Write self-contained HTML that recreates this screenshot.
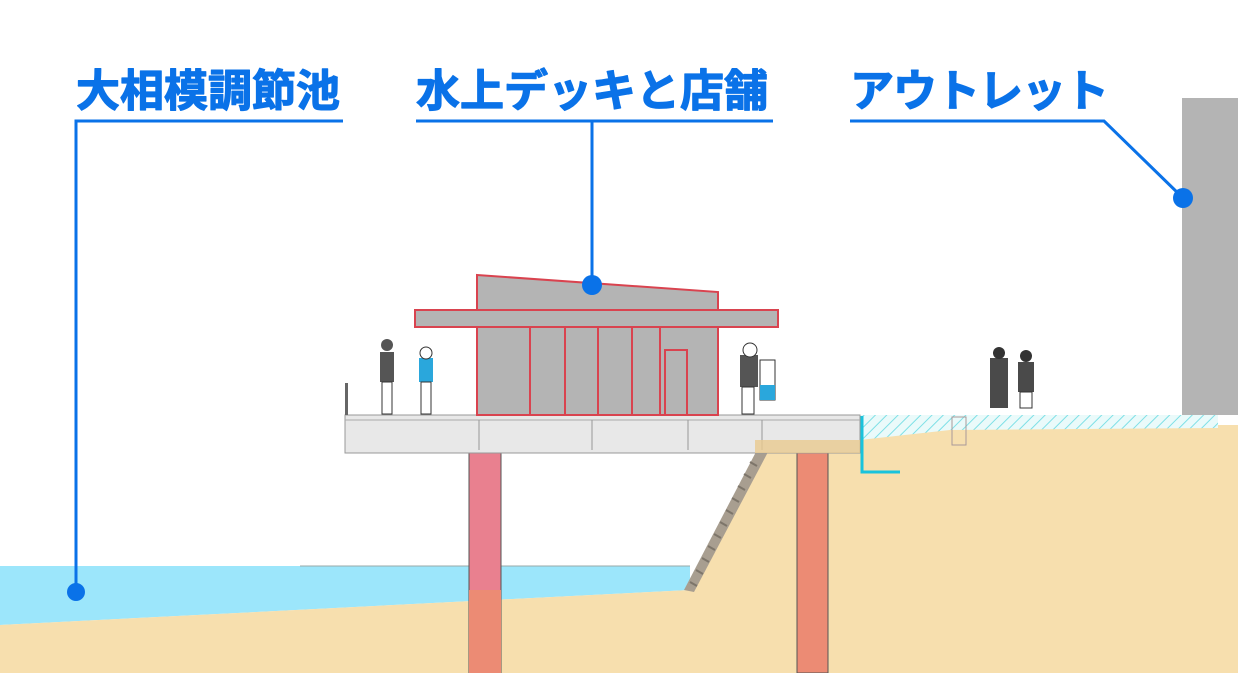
<!DOCTYPE html>
<html><head><meta charset="utf-8"><style>
html,body{margin:0;padding:0;background:#fff;width:1238px;height:673px;overflow:hidden}
text{font-family:"Liberation Sans","Noto Sans CJK JP",sans-serif;font-weight:bold;fill:#0a72e8;stroke:#0a72e8;stroke-width:1.2;stroke-linejoin:round}
</style></head><body>
<svg width="1238" height="673" viewBox="0 0 1238 673" xmlns="http://www.w3.org/2000/svg">
<defs>
<pattern id="hat" width="8" height="8" patternUnits="userSpaceOnUse" patternTransform="rotate(45)">
<rect width="8" height="8" fill="#eafafa"/><line x1="0" y1="0" x2="0" y2="8" stroke="#7ee0e6" stroke-width="2"/></pattern>
</defs>
<rect x="1182" y="98" width="56" height="317" fill="#b4b4b4"/>
<polygon points="0,566 690,566 690,590 0,625" fill="#9ce6fb"/>
<line x1="300" y1="566" x2="690" y2="566" stroke="#9aa" stroke-width="1"/>
<polygon points="0,625 690,590 760,452 860,452 860,440 950,425 1238,425 1238,673 0,673" fill="#f7dfae"/>
<polygon points="684,590 758,448 768,452 694,592" fill="#a89e90"/>
<g stroke="#7d756a" stroke-width="2">
<line x1="690" y1="582" x2="697" y2="586"/><line x1="696" y1="570" x2="703" y2="574"/><line x1="702" y1="558" x2="709" y2="562"/><line x1="708" y1="546" x2="715" y2="550"/><line x1="714" y1="534" x2="721" y2="538"/><line x1="720" y1="522" x2="727" y2="526"/><line x1="726" y1="510" x2="733" y2="514"/><line x1="732" y1="498" x2="739" y2="502"/><line x1="738" y1="486" x2="745" y2="490"/><line x1="744" y1="474" x2="751" y2="478"/><line x1="750" y1="462" x2="757" y2="466"/>
</g>
<polygon points="860,415 1218,415 1218,428 950,430 860,440" fill="url(#hat)"/>
<path d="M862,416 V472 H900" fill="none" stroke="#19c3dc" stroke-width="3"/>
<rect x="952" y="417" width="14" height="28" fill="none" stroke="#a99" stroke-width="1"/>
<rect x="469" y="453" width="32" height="220" fill="#e9808f" stroke="#555" stroke-width="1"/>
<rect x="469" y="590" width="32" height="83" fill="#ec8b74"/>
<rect x="797" y="453" width="31" height="220" fill="#ec8b74" stroke="#555" stroke-width="1"/>
<rect x="345" y="415" width="515" height="38" fill="#e8e8e8" stroke="#999" stroke-width="1"/>
<line x1="345" y1="420" x2="860" y2="420" stroke="#aaa"/>
<g stroke="#999"><line x1="479" y1="420" x2="479" y2="450"/><line x1="592" y1="420" x2="592" y2="450"/><line x1="688" y1="420" x2="688" y2="450"/><line x1="762" y1="420" x2="762" y2="450"/></g>
<rect x="755" y="440" width="105" height="13" fill="#e8c98e" opacity="0.8"/>
<rect x="345" y="383" width="3" height="32" fill="#666"/>
<polygon points="477,275 718,292 718,415 477,415" fill="#b4b4b4" stroke="#d9434f" stroke-width="2"/>
<rect x="415" y="310" width="363" height="17" fill="#b4b4b4" stroke="#d9434f" stroke-width="2"/>
<g stroke="#d9434f" stroke-width="2" fill="none">
<line x1="530" y1="327" x2="530" y2="415"/><line x1="565" y1="327" x2="565" y2="415"/><line x1="598" y1="327" x2="598" y2="415"/><line x1="632" y1="327" x2="632" y2="415"/><line x1="660" y1="327" x2="660" y2="415"/>
<rect x="665" y="350" width="22" height="65"/>
</g>
<g fill="#555"><rect x="380" y="352" width="14" height="30"/><circle cx="387" cy="345" r="6"/></g>
<rect x="382" y="382" width="10" height="32" fill="#fff" stroke="#333"/>
<g><rect x="419" y="358" width="14" height="24" fill="#2aa7dc"/><circle cx="426" cy="353" r="6" fill="#fff" stroke="#333"/><rect x="421" y="382" width="10" height="32" fill="#fff" stroke="#333"/></g>
<rect x="740" y="355" width="18" height="32" fill="#555"/><circle cx="750" cy="350" r="7" fill="#fff" stroke="#333"/>
<rect x="742" y="387" width="12" height="27" fill="#fff" stroke="#333"/>
<rect x="760" y="360" width="15" height="40" fill="#fff" stroke="#333"/><rect x="760" y="385" width="15" height="15" fill="#2aa7dc"/>
<rect x="990" y="358" width="18" height="50" fill="#4a4a4a"/><circle cx="999" cy="353" r="6" fill="#333"/>
<rect x="1018" y="362" width="16" height="30" fill="#4a4a4a"/><circle cx="1026" cy="356" r="6" fill="#333"/>
<rect x="1020" y="392" width="12" height="16" fill="#fff" stroke="#333"/>
<text x="76" y="106" font-size="44">大相模調節池</text>
<text x="416" y="106" font-size="44">水上デッキと店舗</text>
<text x="850" y="106" font-size="44" letter-spacing="-1">アウトレット</text>
<g stroke="#0a72e8" stroke-width="3" fill="none">
<polyline points="343,121 76,121 76,592"/>
<line x1="416" y1="121" x2="773" y2="121"/><line x1="592" y1="121" x2="592" y2="285"/>
<polyline points="850,121 1104,121 1183,198"/>
</g>
<g fill="#0a72e8"><circle cx="76" cy="592" r="9"/><circle cx="592" cy="285" r="10"/><circle cx="1183" cy="198" r="10"/></g>
</svg>
</body></html>
